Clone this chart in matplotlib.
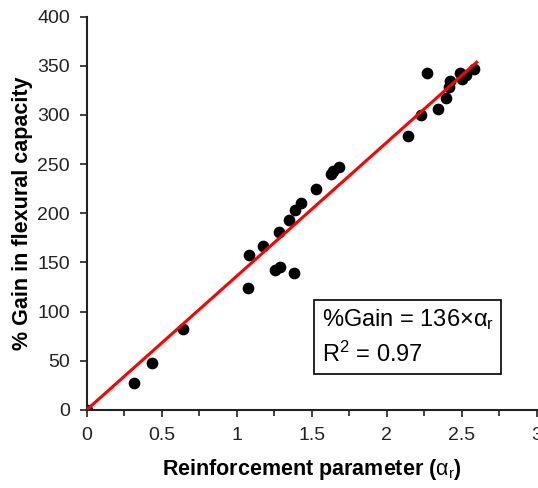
import matplotlib.pyplot as plt
from matplotlib.ticker import MultipleLocator

plt.rcParams['font.family'] = ['Liberation Sans', 'DejaVu Sans']
plt.rcParams['mathtext.fontset'] = 'custom'
plt.rcParams['mathtext.rm'] = 'Liberation Sans'
plt.rcParams['mathtext.it'] = 'Liberation Sans:italic'
plt.rcParams['mathtext.bf'] = 'Liberation Sans:bold'
plt.rcParams['mathtext.default'] = 'regular'

# Data
alpha_r = [0.0, 0.315, 0.435, 0.644, 1.075, 1.084, 1.175, 1.255, 1.289, 1.384,
           1.282, 1.349, 1.389, 1.427, 1.529, 1.631, 1.64, 1.68, 2.144, 2.227,
           2.269, 2.34, 2.395, 2.415, 2.424, 2.491, 2.5, 2.527, 2.582]
gain = [0, 27.8, 47.8, 82.7, 124.4, 157.7, 166.8, 142.4, 145.5, 139.7,
        180.7, 193.6, 203.1, 210.9, 225.1, 240.1, 242.8, 247.5, 279, 300.4,
        342.5, 305.9, 317, 328.9, 334.3, 343.1, 336.7, 341.1, 346.6]
slope = 136
fit_x = [0, 2.6]

fig = plt.figure(figsize=(5.38, 4.88), dpi=100)
ax = fig.add_axes([0.161, 0.16, 0.8366, 0.806])

ax.plot(fit_x, [slope * v for v in fit_x], color='red', lw=2.2, zorder=3)
ax.scatter(alpha_r, gain, s=55, color='black', zorder=2)

ax.set_xlim(0, 3)
ax.set_ylim(0, 400)
ax.set_xticks([0, 0.5, 1, 1.5, 2, 2.5, 3])
ax.set_xticklabels(['0', '0.5', '1', '1.5', '2', '2.5', '3'])
ax.xaxis.set_minor_locator(MultipleLocator(0.25))
ax.yaxis.set_major_locator(MultipleLocator(50))
ax.tick_params(axis='both', which='both', direction='out', labelsize=14, width=1.2,
               colors='#222222', pad=7)
ax.tick_params(which='major', length=5)
ax.tick_params(which='minor', length=4)

for s in ['top', 'right']:
    ax.spines[s].set_visible(False)
for s in ['left', 'bottom']:
    ax.spines[s].set_linewidth(1.5)
    ax.spines[s].set_color('#222222')

ax.set_xlabel(r'Reinforcement parameter ($\mathrm{\alpha_r}$)', fontsize=15.5, fontweight='bold', labelpad=10)
ax.set_ylabel('% Gain in flexural capacity', fontsize=15.5, fontweight='bold', labelpad=3)

ax.text(0.522, 0.185, '%Gain = 136×$\\alpha_r$\n$R^2$ = 0.97', transform=ax.transAxes,
        fontsize=17, va='center', ha='left', linespacing=1.45,
        bbox=dict(boxstyle='square,pad=0.3', fc='white', ec='black', lw=1.2))

fig.savefig('out.png', dpi=100)
